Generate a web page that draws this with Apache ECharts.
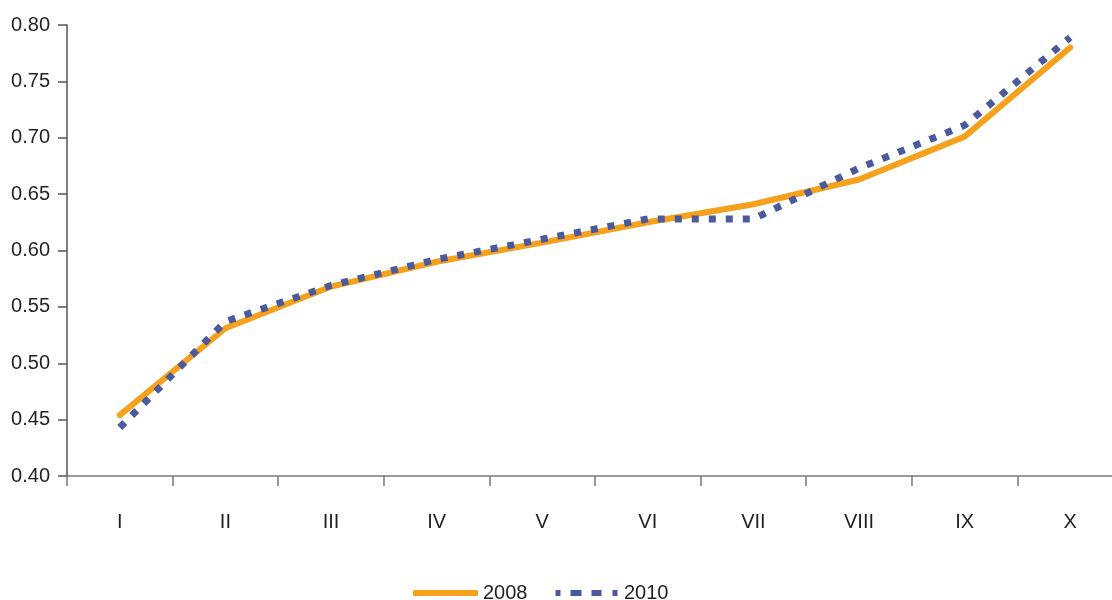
<!DOCTYPE html>
<html>
<head>
	<meta charset="utf-8" />
	<title>2008 / 2010</title>
	<script src="https://cdn.jsdelivr.net/npm/echarts@6/dist/echarts.min.js"></script>
</head>
<body style="margin:0;overflow:hidden;">
	<!-- chart container, a bit wider than the window: the plot runs past the right edge -->
	<div id="main" style="width: 1123px;height: 600px;"></div>
	<script type="text/javascript">

		// categories and values
		var categories = ['I','II','III','IV','V','VI','VII','VIII','IX','X'];
		var values2008 = [0.454, 0.531, 0.568, 0.590, 0.607, 0.625, 0.641, 0.663, 0.701, 0.780];
		var values2010 = [0.443, 0.537, 0.569, 0.592, 0.610, 0.628, 0.628, 0.673, 0.711, 0.789];

		var myChart = echarts.init(document.getElementById("main"));

		var textStyle = {
			fontFamily:'Liberation Sans',
			fontSize:20,
			color:'#231f20'
		};

		var orange = '#f5a11c';
		var blue = '#4a5a9c';

		var option = {
			animation:false,
			grid:{
				left:67,
				top:25,
				right:0,
				bottom:124
			},
			legend:{
				left:408,
				top:578,
				itemWidth:65,
				itemHeight:6,
				itemGap:28,
				textStyle:textStyle,
				data:[
					{name:'2008',icon:'roundRect'},
					//dashed icon drawn as four small squares
					{name:'2010',icon:'path://M0,0h5v6h-5z M15,0h11v6h-11z M36,0h10v6h-10z M57,0h5v6h-5z'}
				]
			},
			xAxis:{
				type:'category',
				data:categories,
				boundaryGap:true,
				axisLine:{lineStyle:{color:'#7a7a7a',width:1.5}},
				axisTick:{show:true,length:10,lineStyle:{color:'#7a7a7a',width:1.5}},
				axisLabel:Object.assign({margin:36}, textStyle)
			},
			yAxis:{
				type:'value',
				min:0.40,
				max:0.80,
				interval:0.05,
				splitLine:{show:false},
				axisLine:{show:true,lineStyle:{color:'#555',width:1.5}},
				axisTick:{show:true,length:9,lineStyle:{color:'#555',width:1.5}},
				axisLabel:Object.assign({
					margin:17,
					formatter:function(v){ return v.toFixed(2); }
				}, textStyle)
			},
			series:[
				{
					name:'2008',
					type:'line',
					data:values2008,
					symbol:'none',
					itemStyle:{color:orange},
					lineStyle:{color:orange,width:6,cap:'round'}
				},
				{
					name:'2010',
					type:'line',
					data:values2010,
					symbol:'none',
					itemStyle:{color:blue},
					lineStyle:{color:blue,width:7,type:[7,10]}
				}
			]
		};

		myChart.setOption(option);

	</script>
</body>
</html>
